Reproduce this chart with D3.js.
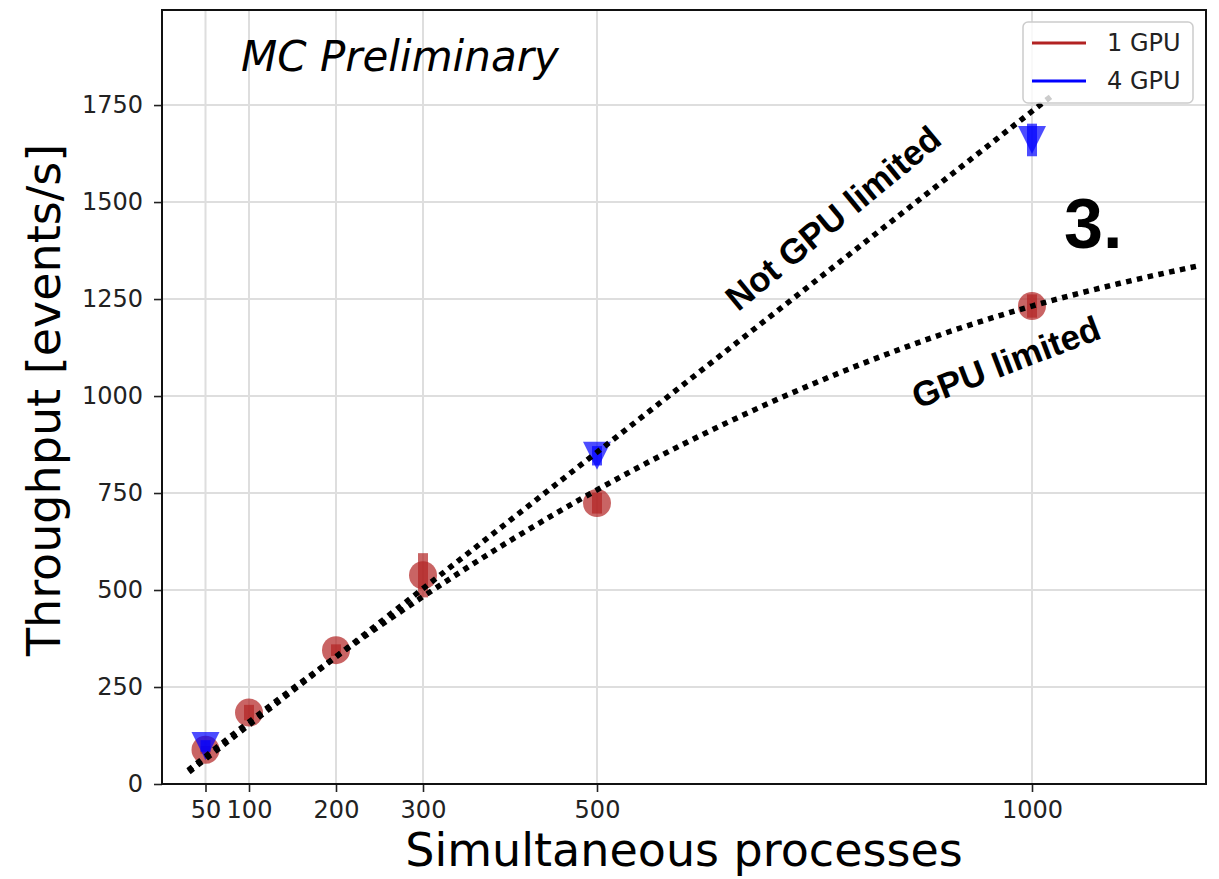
<!DOCTYPE html>
<html>
<head>
<meta charset="utf-8">
<script src="https://cdn.jsdelivr.net/npm/d3@7"></script>
<style>
  body { margin: 0; background: #fff; }
  svg { display: block; }
  .tick text { font-family: "DejaVu Sans", sans-serif; font-size: 24px; fill: #222; }
  .tick line { stroke: #222; stroke-width: 1.6; }
  .grid line { stroke: #dedede; stroke-width: 2; }
</style>
</head>
<body>
<svg id="chart" width="1219" height="879"></svg>
<script>
// processes on the x axis
const ticksX = [50, 100, 200, 300, 500, 1000];
const ticksY = [0, 250, 500, 750, 1000, 1250, 1500, 1750];

// 1 GPU
const gpu1X = [50, 100, 200, 300, 500, 1000];
const gpu1Y = [88, 184, 345, 538, 724, 1232];
const gpu1Err = [10, 20, 15, 57, 27, 30];

// 4 GPU
const gpu4X = [50, 500, 1000];
const gpu4Y = [98, 846, 1660];
const gpu4Err = [15, 25, 42];

// dotted guide lines
const notLimitedX = [31, 1024];
const notLimitedY = [31, 1776];
const limitedX = [30, 100, 200, 300, 400, 500, 600, 700, 800, 900, 1000, 1100, 1190];
const limitedY = [35, 160, 328, 483, 627, 758, 877, 984, 1079, 1162, 1232, 1290, 1335];

const plotL = 162, plotR = 1206, plotT = 10, plotB = 784;

const svg = d3.select('#chart');

const x = d3.scaleLinear().domain([0, 1200]).range([plotL, plotR]);
const y = d3.scaleLinear().domain([0, 1995]).range([plotB, plotT]);

// grid
const grid = svg.append('g').attr('class', 'grid');
grid.selectAll('line.gx').data(ticksX).join('line')
  .attr('class', 'gx')
  .attr('x1', d => x(d)).attr('x2', d => x(d))
  .attr('y1', plotT).attr('y2', plotB);
grid.selectAll('line.gy').data(ticksY).join('line')
  .attr('class', 'gy')
  .attr('x1', plotL).attr('x2', plotR)
  .attr('y1', d => y(d)).attr('y2', d => y(d));

// axes
const xAxis = svg.append('g')
  .attr('transform', `translate(0,${plotB})`)
  .call(d3.axisBottom(x).tickValues(ticksX).tickFormat(d3.format('d')).tickSize(8).tickPadding(9));
const yAxis = svg.append('g')
  .attr('transform', `translate(${plotL},0)`)
  .call(d3.axisLeft(y).tickValues(ticksY).tickFormat(d3.format('d')).tickSize(8).tickPadding(11));
xAxis.select('.domain').remove();
yAxis.select('.domain').remove();

// frame
svg.append('rect')
  .attr('x', plotL).attr('y', plotT)
  .attr('width', plotR - plotL).attr('height', plotB - plotT)
  .attr('fill', 'none').attr('stroke', '#111').attr('stroke-width', 2);

const red = 'rgba(178,34,34,0.7)';
const blue = 'rgba(0,0,255,0.7)';

// 1 GPU markers + error bars
const g1 = svg.append('g');
g1.selectAll('line').data(gpu1X).join('line')
  .attr('x1', d => x(d)).attr('x2', d => x(d))
  .attr('y1', (d, i) => y(gpu1Y[i] - gpu1Err[i]))
  .attr('y2', (d, i) => y(gpu1Y[i] + gpu1Err[i]))
  .attr('stroke', red).attr('stroke-width', 10);
g1.selectAll('circle').data(gpu1X).join('circle')
  .attr('cx', d => x(d))
  .attr('cy', (d, i) => y(gpu1Y[i]))
  .attr('r', 14)
  .attr('fill', red);

// 4 GPU markers + error bars
const g4 = svg.append('g');
g4.selectAll('line').data(gpu4X).join('line')
  .attr('x1', d => x(d)).attr('x2', d => x(d))
  .attr('y1', (d, i) => y(gpu4Y[i] - gpu4Err[i]))
  .attr('y2', (d, i) => y(gpu4Y[i] + gpu4Err[i]))
  .attr('stroke', blue).attr('stroke-width', 10);
g4.selectAll('path').data(gpu4X).join('path')
  .attr('transform', (d, i) => `translate(${x(d)},${y(gpu4Y[i])})`)
  .attr('d', 'M-14,-14L14,-14L0,14Z')
  .attr('fill', blue);

// dotted guides
const line = d3.line().x(d => x(d[0])).y(d => y(d[1])).curve(d3.curveMonotoneX);
svg.append('path')
  .datum(d3.zip(notLimitedX, notLimitedY))
  .attr('d', line)
  .attr('fill', 'none').attr('stroke', '#000')
  .attr('stroke-width', 5.5).attr('stroke-dasharray', '5.5 5.5');
svg.append('path')
  .datum(d3.zip(limitedX, limitedY))
  .attr('d', line)
  .attr('fill', 'none').attr('stroke', '#000')
  .attr('stroke-width', 5.5).attr('stroke-dasharray', '5.5 5.5');

// annotations
svg.append('text')
  .attr('transform', 'translate(833,218) rotate(-39.5)')
  .attr('text-anchor', 'middle').attr('dy', '0.35em')
  .style('font-family', '"Liberation Sans", Arial, sans-serif')
  .style('font-weight', 'bold').style('font-size', '35px')
  .text('Not GPU limited');
svg.append('text')
  .attr('transform', 'translate(1006,362) rotate(-21)')
  .attr('text-anchor', 'middle').attr('dy', '0.35em')
  .style('font-family', '"Liberation Sans", Arial, sans-serif')
  .style('font-weight', 'bold').style('font-size', '35px')
  .text('GPU limited');
svg.append('text')
  .attr('x', 1064).attr('y', 248)
  .style('font-family', '"Liberation Sans", Arial, sans-serif')
  .style('font-weight', 'bold').style('font-size', '70px')
  .text('3.');
svg.append('text')
  .attr('x', 241).attr('y', 71)
  .style('font-family', '"DejaVu Sans", sans-serif')
  .style('font-style', 'italic').style('font-size', '42px')
  .text('MC Preliminary');

// axis labels
svg.append('text')
  .attr('x', 684).attr('y', 866)
  .attr('text-anchor', 'middle')
  .style('font-family', '"DejaVu Sans", sans-serif').style('font-size', '46px')
  .text('Simultaneous processes');
svg.append('text')
  .attr('transform', 'translate(60,400) rotate(-90)')
  .attr('text-anchor', 'middle')
  .style('font-family', '"DejaVu Sans", sans-serif').style('font-size', '46px')
  .text('Throughput [events/s]');

// legend
const legendNames = ['1 GPU', '4 GPU'];
const legendColors = ['#b22222', '#0000ff'];
const lg = svg.append('g').attr('transform', 'translate(1023,22)');
lg.append('rect')
  .attr('width', 170).attr('height', 81).attr('rx', 5)
  .attr('fill', 'rgba(255,255,255,0.8)').attr('stroke', '#ccc').attr('stroke-width', 1.5);
legendNames.forEach((n, i) => {
  const yy = 21 + i * 38;
  lg.append('line')
    .attr('x1', 9).attr('x2', 63).attr('y1', yy).attr('y2', yy)
    .attr('stroke', legendColors[i]).attr('stroke-width', 3);
  lg.append('text')
    .attr('x', 84).attr('y', yy).attr('dy', '0.35em')
    .style('font-family', '"DejaVu Sans", sans-serif').style('font-size', '24px')
    .style('fill', '#222')
    .text(n);
});
</script>
</body>
</html>
